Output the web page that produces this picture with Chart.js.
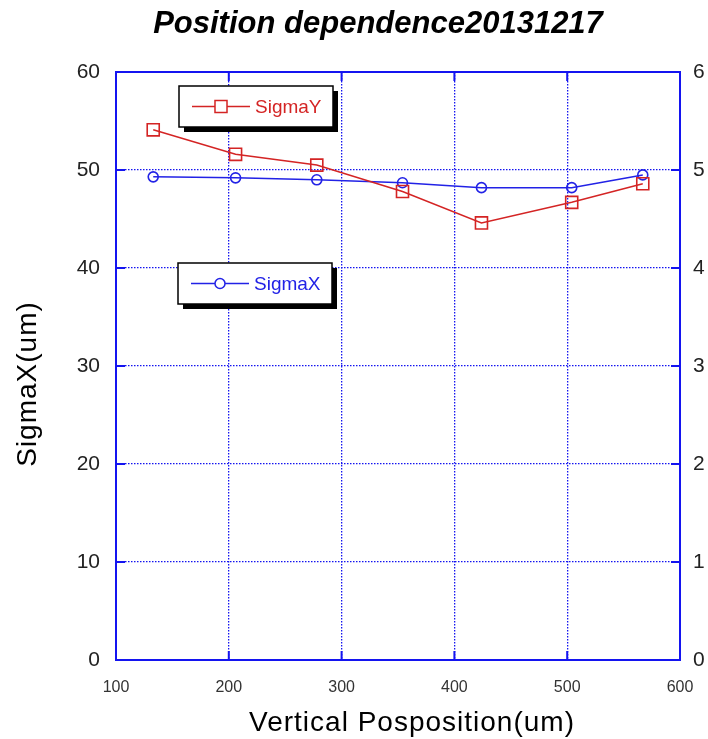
<!DOCTYPE html>
<html>
<head>
<meta charset="utf-8">
<title>Position dependence20131217</title>
<script src="https://cdn.jsdelivr.net/npm/chart.js@4.4.0/dist/chart.umd.min.js"></script>
<style>
  html, body { margin: 0; padding: 0; background: #fff; }
  #wrap { width: 708px; height: 739px; }
</style>
</head>
<body>
<div id="wrap"><canvas id="posChart" width="708" height="739"></canvas></div>
<script>
// beam spot size vs vertical position, 2013-12-17
const positions = [133, 206, 278, 354, 424, 504, 567];
const sigmaY = [54.1, 51.6, 50.5, 47.8, 44.6, 46.7, 48.6];
const sigmaX = [49.3, 49.2, 49.0, 48.7, 48.2, 48.2, 49.5];
const xTicks = [100, 200, 300, 400, 500, 600];
const leftTicks = [0, 10, 20, 30, 40, 50, 60];
const rightTicks = [0, 1, 2, 3, 4, 5, 6];

const FRAME = '#1414f0';
const RED = '#d42424';
const BLUE = '#2222e6';
const FONT = '"Liberation Sans", Arial, Helvetica, sans-serif';

const toPoints = (ys) => positions.map((x, i) => ({ x: x, y: ys[i] }));

// legend boxes with a hard drop shadow, one per series
const legendBoxes = [
  { ds: 0, x: 179, y: 86, w: 154, h: 41 },
  { ds: 1, x: 178, y: 263, w: 154, h: 41 }
];

const framePlugin = {
  id: 'frame',
  afterDraw(chart) {
    const ctx = chart.ctx;
    const a = chart.chartArea;
    const sx = chart.scales.x, sy = chart.scales.y, sy2 = chart.scales.y2;

    ctx.save();
    // plot frame
    ctx.strokeStyle = FRAME;
    ctx.lineWidth = 2;
    ctx.strokeRect(a.left, a.top, a.right - a.left, a.bottom - a.top);

    // short inward ticks on every side
    const tl = 9;
    ctx.lineWidth = 2;
    ctx.beginPath();
    xTicks.forEach((v) => {
      const px = sx.getPixelForValue(v);
      ctx.moveTo(px, a.bottom); ctx.lineTo(px, a.bottom - tl);
      ctx.moveTo(px, a.top); ctx.lineTo(px, a.top + tl);
    });
    leftTicks.forEach((v) => {
      const py = sy.getPixelForValue(v);
      ctx.moveTo(a.left, py); ctx.lineTo(a.left + tl, py);
    });
    rightTicks.forEach((v) => {
      const py = sy2.getPixelForValue(v);
      ctx.moveTo(a.right, py); ctx.lineTo(a.right - tl, py);
    });
    ctx.stroke();

    // legends
    legendBoxes.forEach((b) => {
      const ds = chart.data.datasets[b.ds];
      ctx.fillStyle = '#000';
      ctx.fillRect(b.x + 5, b.y + 5, b.w, b.h);
      ctx.fillStyle = '#fff';
      ctx.fillRect(b.x, b.y, b.w, b.h);
      ctx.strokeStyle = '#000';
      ctx.lineWidth = 1.5;
      ctx.strokeRect(b.x, b.y, b.w, b.h);

      const cy = b.y + b.h / 2;
      ctx.strokeStyle = ds.borderColor;
      ctx.lineWidth = 1.5;
      ctx.beginPath();
      ctx.moveTo(b.x + 13, cy);
      ctx.lineTo(b.x + 71, cy);
      ctx.stroke();
      Chart.helpers.drawPoint(ctx, {
        pointStyle: ds.pointStyle,
        radius: ds.pointRadius,
        borderWidth: ds.pointBorderWidth
      }, b.x + 42, cy);
      ctx.fillStyle = ds.borderColor;
      ctx.font = '19px ' + FONT;
      ctx.textAlign = 'left';
      ctx.textBaseline = 'middle';
      ctx.fillText(ds.label, b.x + 76, cy + 1);
    });

    // titles
    ctx.fillStyle = '#000';
    ctx.textAlign = 'center';
    ctx.textBaseline = 'alphabetic';
    ctx.font = 'italic bold 31px ' + FONT;
    ctx.fillText('Position dependence20131217', 378, 33);

    ctx.font = '28px ' + FONT;
    ctx.letterSpacing = '1px';
    ctx.fillText('Vertical Posposition(um)', 412, 731);

    ctx.translate(36, 384);
    ctx.rotate(-Math.PI / 2);
    ctx.fillText('SigmaX(um)', 0, 0);
    ctx.letterSpacing = '0px';
    ctx.restore();
  }
};

const ctx = document.getElementById('posChart').getContext('2d');
new Chart(ctx, {
  type: 'line',
  data: {
    datasets: [
      {
        label: 'SigmaY',
        data: toPoints(sigmaY),
        borderColor: RED,
        backgroundColor: 'rgba(0,0,0,0)',
        borderWidth: 1.5,
        pointStyle: 'rect',
        pointRadius: 8.5,
        pointBorderWidth: 1.6,
        pointBackgroundColor: 'rgba(0,0,0,0)',
        pointBorderColor: RED,
        yAxisID: 'y'
      },
      {
        label: 'SigmaX',
        data: toPoints(sigmaX),
        borderColor: BLUE,
        backgroundColor: 'rgba(0,0,0,0)',
        borderWidth: 1.5,
        pointStyle: 'circle',
        pointRadius: 5,
        pointBorderWidth: 1.6,
        pointBackgroundColor: 'rgba(0,0,0,0)',
        pointBorderColor: BLUE,
        yAxisID: 'y'
      }
    ]
  },
  options: {
    responsive: false,
    animation: false,
    layout: { padding: { top: 72, left: 0, right: 0, bottom: 0 } },
    plugins: {
      legend: { display: false },
      title: { display: false },
      tooltip: { enabled: false }
    },
    scales: {
      x: {
        type: 'linear',
        min: 100,
        max: 600,
        afterFit: (s) => { s.height = 79; s.paddingLeft = 0; s.paddingRight = 0; },
        afterBuildTicks: (s) => { s.ticks = xTicks.map((v) => ({ value: v })); },
        grid: { color: FRAME, lineWidth: 1.3, drawTicks: false },
        border: { display: false, dash: [1.5, 1.5] },
        ticks: {
          padding: 18,
          color: '#333',
          font: { family: FONT, size: 16 },
          maxRotation: 0
        }
      },
      y: {
        position: 'left',
        min: 0,
        max: 60,
        afterFit: (s) => { s.width = 116; s.paddingTop = 0; s.paddingBottom = 0; },
        afterBuildTicks: (s) => { s.ticks = leftTicks.map((v) => ({ value: v })); },
        grid: { color: FRAME, lineWidth: 1.3, drawTicks: false },
        border: { display: false, dash: [1.5, 1.5] },
        ticks: {
          padding: 16,
          color: '#222',
          font: { family: FONT, size: 21 }
        }
      },
      y2: {
        position: 'right',
        min: 0,
        max: 6,
        afterFit: (s) => { s.width = 28; s.paddingTop = 0; s.paddingBottom = 0; },
        afterBuildTicks: (s) => { s.ticks = rightTicks.map((v) => ({ value: v })); },
        grid: { display: false, drawTicks: false },
        border: { display: false },
        ticks: {
          padding: 13,
          color: '#222',
          font: { family: FONT, size: 21 }
        }
      }
    }
  },
  plugins: [framePlugin]
});
</script>
</body>
</html>
